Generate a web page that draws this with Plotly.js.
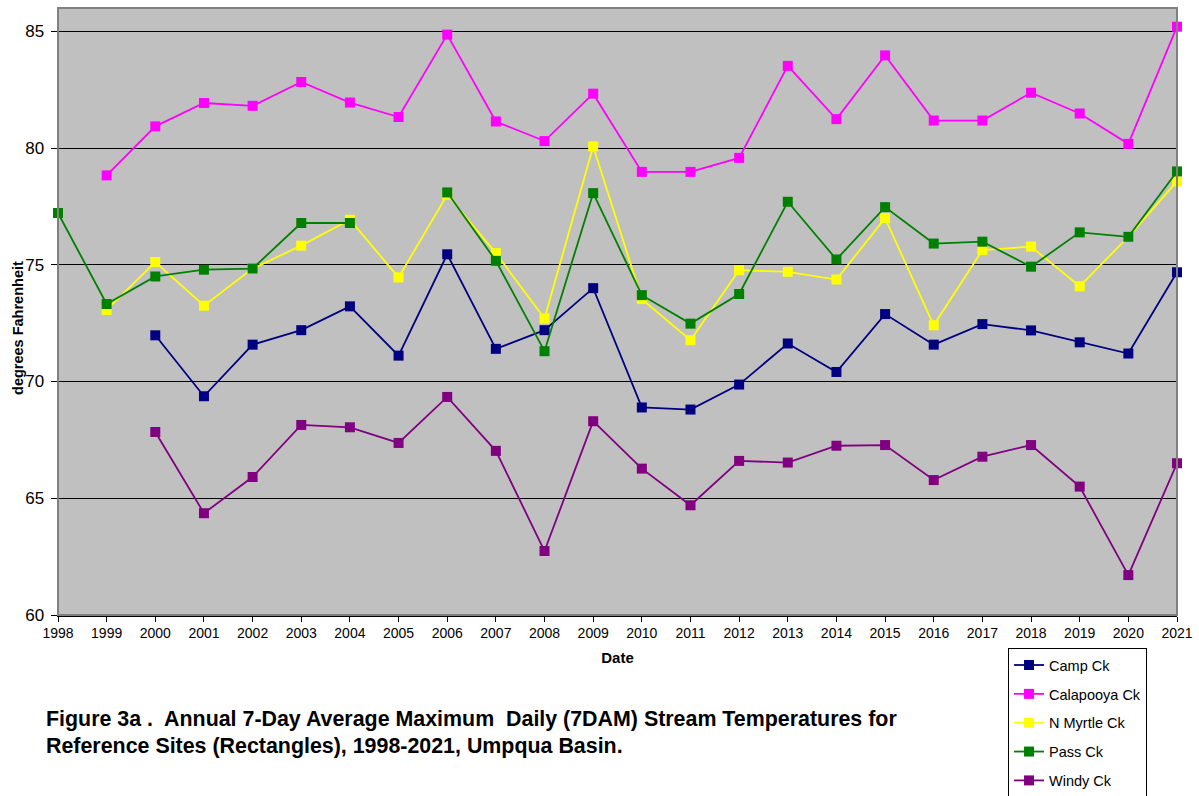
<!DOCTYPE html>
<html><head><meta charset="utf-8">
<script src="https://cdn.plot.ly/plotly-3.0.1.min.js"></script>
<style>html,body{margin:0;padding:0;background:#fff;}#chart{width:1199px;height:796px;}</style>
</head><body><div id="chart"></div>
<script>
const years = [1998,1999,2000,2001,2002,2003,2004,2005,2006,2007,2008,2009,2010,2011,2012,2013,2014,2015,2016,2017,2018,2019,2020,2021];
const campCk =      [null,null,71.98,69.37,71.58,72.2,73.22,71.11,75.45,71.4,72.2,74.0,68.89,68.8,69.87,71.63,70.41,72.89,71.58,72.46,72.19,71.68,71.2,74.68];
const calapooyaCk = [null,78.83,80.93,81.93,81.81,82.83,81.95,81.33,84.86,81.14,80.3,82.33,78.98,78.98,79.58,83.52,81.24,83.97,81.18,81.18,82.37,81.48,80.18,85.2];
const nMyrtleCk =   [null,73.07,75.12,73.25,74.84,75.82,76.93,74.46,78.0,75.5,72.7,80.07,73.53,71.77,74.77,74.7,74.37,77.0,72.41,75.63,75.78,74.08,76.2,78.57];
const passCk =      [77.22,73.32,74.5,74.79,74.84,76.79,76.79,null,78.1,75.17,71.3,78.07,73.7,72.48,73.75,77.7,75.23,77.47,75.91,75.99,74.92,76.39,76.2,79.0];
const windyCk =     [null,null,67.84,64.36,65.91,68.14,68.04,67.37,69.34,67.03,62.74,68.3,66.27,64.7,66.6,66.53,67.25,67.28,65.78,66.78,67.28,65.5,61.71,66.5];
const seriesNames = ['Camp Ck','Calapooya Ck','N Myrtle Ck','Pass Ck','Windy Ck'];
const seriesColors = ['#000080','#FF00FF','#FFFF00','#008000','#800080'];
const seriesData = [campCk, calapooyaCk, nMyrtleCk, passCk, windyCk];
const yTicks = [60,65,70,75,80,85];

const traces = seriesData.map((d,i)=>({
  x: years, y: d, name: seriesNames[i], type:'scatter', mode:'lines+markers',
  line:{color:seriesColors[i], width:1.8},
  marker:{symbol:'square', size:10, color:seriesColors[i]},
  connectgaps:false, cliponaxis:false, legendgroup:'g'+i
}));

const font = 'Liberation Sans, Arial, sans-serif';
const layout = {
  width:1199, height:796,
  margin:{l:58, r:22, t:8, b:181, autoexpand:false},
  paper_bgcolor:'#ffffff', plot_bgcolor:'#C0C0C0',
  font:{family:font, color:'#000', size:13},
  showlegend:true,
  legend:{x:0.849, y:-0.0545, xanchor:'left', yanchor:'top', bgcolor:'#ffffff',
    bordercolor:'#000', borderwidth:1, font:{family:font, size:14.5, color:'#000'},
    tracegroupgap:7, itemwidth:30},
  xaxis:{range:[1998,2021], tickmode:'array', tickvals:years, ticktext:years.map(String),
    ticks:'outside', ticklen:5, tickcolor:'#000', showgrid:false, zeroline:false,
    showline:true, linecolor:'#000', linewidth:1.5,
    tickfont:{family:font, size:14, color:'#000'},
    title:{text:'<b>Date</b>', font:{family:font, size:15, color:'#000'}, standoff:12}},
  yaxis:{range:[60,86], tickmode:'array', tickvals:yTicks, ticks:'outside', ticklen:6, tickcolor:'#000',
    showgrid:true, gridcolor:'#000', gridwidth:1, zeroline:false,
    showline:true, linecolor:'#000', linewidth:1.5, ticklabelstandoff:3,
    tickfont:{family:font, size:17, color:'#000'}},
  shapes:[{type:'rect', xref:'paper', yref:'paper', x0:0, x1:1, y0:0, y1:1,
    line:{color:'#808080', width:2}, fillcolor:'rgba(0,0,0,0)'}],
  annotations:[
    {xref:'paper', yref:'paper', x:-0.0357, y:0.473, text:'<b>degrees Fahrenheit</b>', textangle:-90,
     showarrow:false, font:{family:font, size:14.5, color:'#000'}, xanchor:'center', yanchor:'middle'},
    {xref:'paper', yref:'paper', x:-0.0125, y:-0.1713, xanchor:'left', yanchor:'middle', showarrow:false,
     text:'<b>Figure 3a .  Annual 7-Day Average Maximum  Daily (7DAM) Stream Temperatures for</b>',
     font:{family:font, size:21.4, color:'#000'}},
    {xref:'paper', yref:'paper', x:-0.0125, y:-0.2158, xanchor:'left', yanchor:'middle', showarrow:false,
     text:'<b>Reference Sites (Rectangles), 1998-2021, Umpqua Basin.</b>',
     font:{family:font, size:21.4, color:'#000'}}
  ]
};
Plotly.newPlot('chart', traces, layout, {displayModeBar:false, staticPlot:true});
</script></body></html>
